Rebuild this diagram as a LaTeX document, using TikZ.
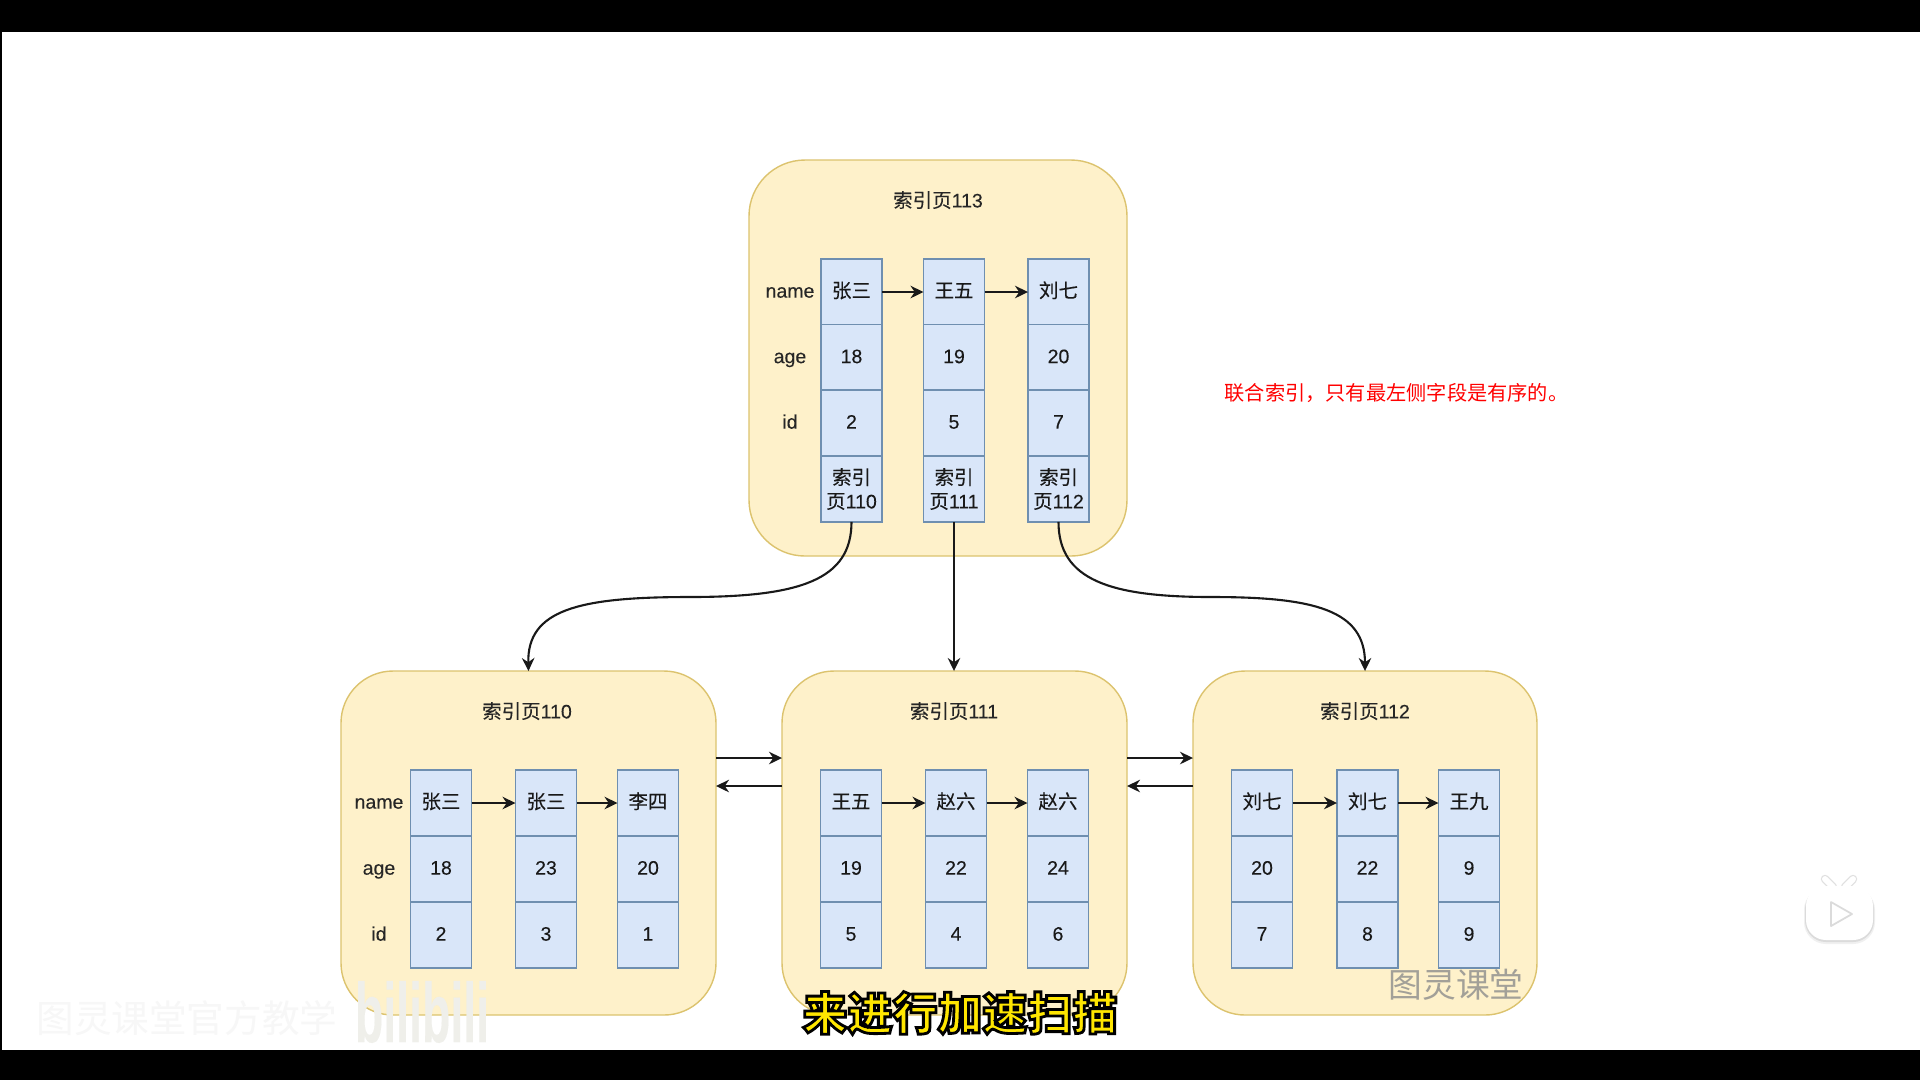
\documentclass[tikz,border=0pt]{standalone}
\usepackage{fontspec}
\setmainfont{Liberation Sans}[FakeBold=0.15]
\newfontfamily\cjk{Noto Sans CJK SC}[FakeBold=0.15]
\newfontfamily\cjkplain{Noto Sans CJK SC}
\newfontfamily\cjkheavy{Noto Sans CJK SC Black}
\usetikzlibrary{arrows.meta}
\definecolor{pagefill}{HTML}{FEF1CA}
\definecolor{pageline}{HTML}{DCC36E}
\definecolor{cellfill}{HTML}{D9E6F9}
\definecolor{cellline}{HTML}{6F8FB0}
\definecolor{capyellow}{HTML}{FFE600}
\definecolor{logogray}{HTML}{EFEFEA}
\tikzset{
  pagebox/.style={draw=pageline, fill=pagefill, line width=0.4pt, inner sep=0pt, outer sep=0pt},
  cellbase/.style={draw=cellline, fill=cellfill, line width=0.45pt, inner sep=0pt, outer sep=0pt,
    minimum width=6.1mm, minimum height=6.57mm, align=center, text=black!90},
  cell/.style={cellbase, text height=4pt, text depth=0.8pt},
  lbl/.style={inner sep=0pt, text=black!85},
  rowlbl/.style={lbl, text height=3.9pt, text depth=0.7pt},
  link/.style={-{Stealth[length=1.3mm,width=1.25mm]}, line width=0.6pt, black!90}
}
\begin{document}
\begin{tikzpicture}[x=0.1mm, y=-0.1mm, font=\fontsize{5.55}{6.8}\selectfont]
    % Parameters
    \def\rowa{292}
    \def\rowb{357.5}
    \def\rowc{423}
    \def\rowd{489}
    \def\rowe{803}
    \def\rowf{869}
    \def\rowg{935}

    % Video frame
    \fill[black] (0,0) rectangle (1920,1080);
    \fill[white] (2,32) rectangle (1920,1050);
    \useasboundingbox (0,0) rectangle (1920,1080);

    % Index page 113 (top)
    \node[pagebox, rounded corners=5.6mm, minimum width=37.8mm, minimum height=39.6mm] (page113) at (938,358) {};
    \node[lbl] (title113) at (938,200) {{\cjk 索引页}113};
    \node[rowlbl] (name113) at (790,\rowa) {name};
    \node[rowlbl] (age113) at (790,\rowb) {age};
    \node[rowlbl] (id113) at (790,\rowc) {id};
    \node[cell] (ta) at (851.5,\rowa) {\cjk 张三};
    \node[cell] (tb) at (954,\rowa) {\cjk 王五};
    \node[cell] (tc) at (1058.5,\rowa) {\cjk 刘七};
    \node[cell] at (851.5,\rowb) {18};
    \node[cell] at (954,\rowb) {19};
    \node[cell] at (1058.5,\rowb) {20};
    \node[cell] at (851.5,\rowc) {2};
    \node[cell] at (954,\rowc) {5};
    \node[cell] at (1058.5,\rowc) {7};
    \node[cellbase] (pa) at (851.5,\rowd) {{\cjk 索引}\\{\cjk 页}110};
    \node[cellbase] (pb) at (954,\rowd) {{\cjk 索引}\\{\cjk 页}111};
    \node[cellbase] (pc) at (1058.5,\rowd) {{\cjk 索引}\\{\cjk 页}112};
    \draw[link] (ta) -- (tb);
    \draw[link] (tb) -- (tc);

    % Index page 110 (left)
    \node[pagebox, rounded corners=5.2mm, minimum width=37.5mm, minimum height=34.4mm] (page110) at (528.5,843) {};
    \node[lbl] (title110) at (527,711) {{\cjk 索引页}110};
    \node[rowlbl] (name110) at (379,\rowe) {name};
    \node[rowlbl] (age110) at (379,\rowf) {age};
    \node[rowlbl] (id110) at (379,\rowg) {id};
    \node[cell] (la) at (441,\rowe) {\cjk 张三};
    \node[cell] (lb) at (546,\rowe) {\cjk 张三};
    \node[cell] (lc) at (648,\rowe) {\cjk 李四};
    \node[cell] at (441,\rowf) {18};
    \node[cell] at (546,\rowf) {23};
    \node[cell] at (648,\rowf) {20};
    \node[cell] at (441,\rowg) {2};
    \node[cell] at (546,\rowg) {3};
    \node[cell] at (648,\rowg) {1};
    \draw[link] (la) -- (lb);
    \draw[link] (lb) -- (lc);

    % Index page 111 (middle)
    \node[pagebox, rounded corners=5.2mm, minimum width=34.5mm, minimum height=34.4mm] (page111) at (954.5,843) {};
    \node[lbl] (title111) at (954,711) {{\cjk 索引页}111};
    \node[cell] (ma) at (851,\rowe) {\cjk 王五};
    \node[cell] (mb) at (956,\rowe) {\cjk 赵六};
    \node[cell] (mc) at (1058,\rowe) {\cjk 赵六};
    \node[cell] at (851,\rowf) {19};
    \node[cell] at (956,\rowf) {22};
    \node[cell] at (1058,\rowf) {24};
    \node[cell] at (851,\rowg) {5};
    \node[cell] at (956,\rowg) {4};
    \node[cell] at (1058,\rowg) {6};
    \draw[link] (ma) -- (mb);
    \draw[link] (mb) -- (mc);

    % Index page 112 (right)
    \node[pagebox, rounded corners=5.2mm, minimum width=34.4mm, minimum height=34.4mm] (page112) at (1365,843) {};
    \node[lbl] (title112) at (1365,711) {{\cjk 索引页}112};
    \node[cell] (ra) at (1262,\rowe) {\cjk 刘七};
    \node[cell] (rb) at (1367.5,\rowe) {\cjk 刘七};
    \node[cell] (rc) at (1469,\rowe) {\cjk 王九};
    \node[cell] at (1262,\rowf) {20};
    \node[cell] at (1367.5,\rowf) {22};
    \node[cell] at (1469,\rowf) {9};
    \node[cell] at (1262,\rowg) {7};
    \node[cell] at (1367.5,\rowg) {8};
    \node[cell] at (1469,\rowg) {9};
    \draw[link] (ra) -- (rb);
    \draw[link] (rb) -- (rc);

    % Links between pages
    \coordinate (bendl) at (689,597);
    \coordinate (bendr) at (1212,597);
    \draw[link] (pa.south) .. controls (851.5,580) and (800,597) .. (bendl) .. controls (578,597) and (527,610) .. (page110.north);
    \draw[link] (pb.south) -- (pb.south |- page111.north);
    \draw[link] (pc.south) .. controls (1058.5,580) and (1110,597) .. (bendr) .. controls (1314,597) and (1365,610) .. (page112.north);
    \draw[link] (page110.east |- 0,758) -- (page111.west |- 0,758);
    \draw[link] (page111.west |- 0,786) -- (page110.east |- 0,786);
    \draw[link] (page111.east |- 0,758) -- (page112.west |- 0,758);
    \draw[link] (page112.west |- 0,786) -- (page111.east |- 0,786);

    % Note
    \node[anchor=west, inner sep=0pt, text=red, font=\fontsize{5.75}{6.8}\selectfont] (note) at (1224,393) {\cjkplain 联合索引，只有最左侧字段是有序的。};

    % Video overlays
    \node[inner sep=0pt, text=black!45, opacity=0.8, font=\fontsize{9.6}{9.6}\selectfont] (mark) at (1456,985) {\cjkplain 图灵课堂};
    \node[inner sep=0pt, text=black!3, font=\fontsize{10.7}{10.7}\selectfont] (markb) at (187,1018) {\cjkplain 图灵课堂官方教学};
    \node[inner sep=0pt, text=logogray, xscale=0.55, transform shape, font=\fontsize{24}{24}\bfseries] (logo) at (422,1012) {bilibili};
    \node[inner sep=0pt, text=capyellow, font=\fontsize{12.8}{12.8}\selectfont] (caption) at (960,1013)
      {\special{pdf:code q 2 Tr 0.8 w 0 0 0 RG}\cjkheavy 来进行加速扫描\special{pdf:code Q}};

    % Play badge
    \draw[black!12, line width=2.4pt, line cap=round] (1825,879) -- (1833,887);
    \draw[black!12, line width=2.4pt, line cap=round] (1853,879) -- (1845,887);
    \draw[white, line width=1.7pt, line cap=round] (1825,879) -- (1833,887);
    \draw[white, line width=1.7pt, line cap=round] (1853,879) -- (1845,887);
    \fill[black!6, rounded corners=2.2mm] (1804,888) rectangle (1875,944);
    \fill[black!14, rounded corners=2.1mm] (1805,888) rectangle (1874,942);
    \fill[white, rounded corners=2mm] (1806,886) rectangle (1873,940);
    \draw[black!14, line width=0.5pt, line join=round, fill=white] (1831,902) -- (1852,914) -- (1831,926) -- cycle;
\end{tikzpicture}
\end{document}
